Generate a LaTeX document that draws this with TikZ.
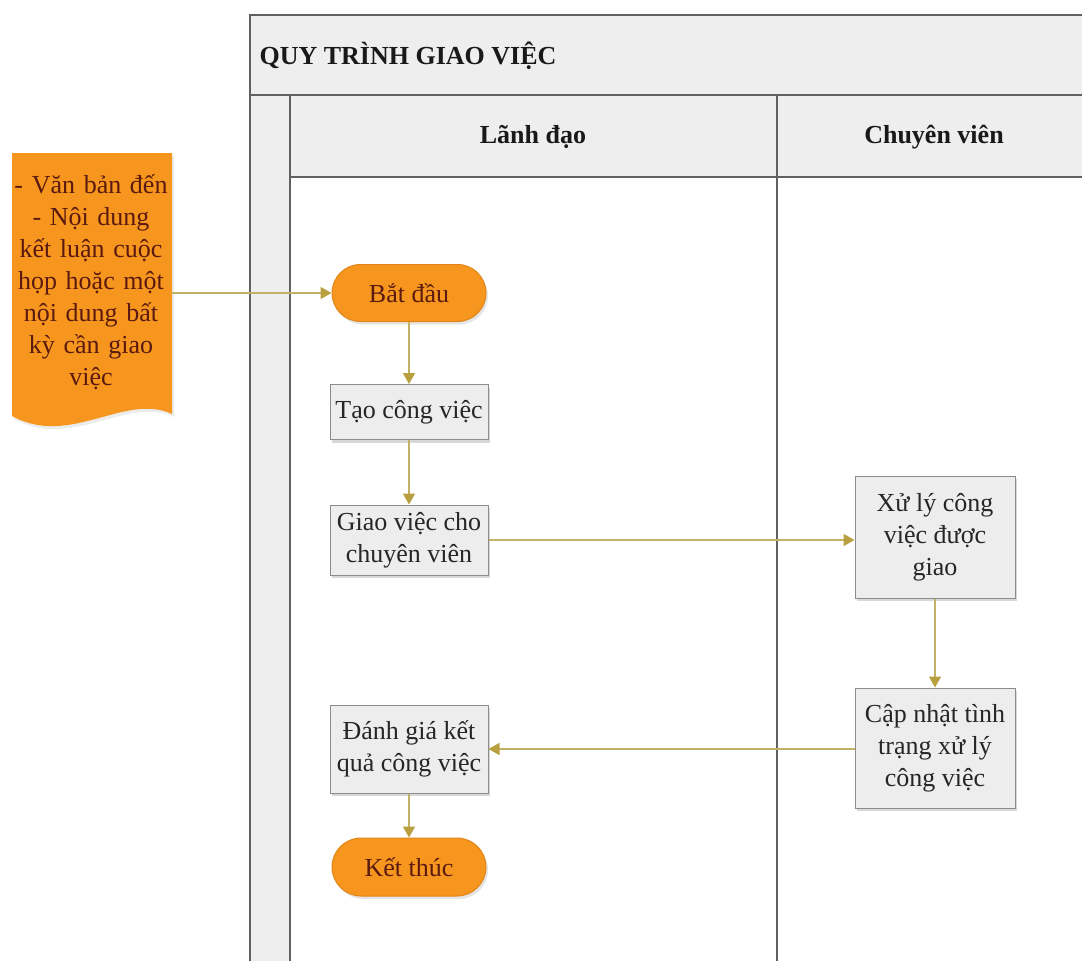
\documentclass[tikz,border=0pt]{standalone}
\usepackage{fontspec}
\setmainfont{Liberation Serif}
\usetikzlibrary{shapes.misc,shadows,arrows.meta}
\definecolor{poolline}{HTML}{606060}
\definecolor{bandfill}{HTML}{EEEEEE}
\definecolor{boxfill}{HTML}{EDEDED}
\definecolor{boxline}{HTML}{8C8C8C}
\definecolor{orangefill}{HTML}{F7961E}
\definecolor{orangeline}{HTML}{E0861A}
\definecolor{ink}{HTML}{5A1A10}
\definecolor{flow}{HTML}{C4B264}
\definecolor{flowtip}{HTML}{B8A040}
\tikzset{
  base/.style={font=\fontsize{26}{32}\selectfont, align=center, inner sep=2pt},
  stepbox/.style={base, rectangle, fill=boxfill, draw=boxline, line width=1pt,
    minimum width=158pt, text=black!85,
    drop shadow={opacity=0.3, shadow xshift=2pt, shadow yshift=-3pt}},
  terminal/.style={base, rounded rectangle, fill=orangefill, draw=orangeline,
    line width=1pt, minimum width=158pt, text=ink,
    drop shadow={opacity=0.2, shadow xshift=2pt, shadow yshift=-3pt}},
  doctext/.style={base, text width=156pt, text=ink},
  flowline/.style={draw=flow, line width=1.5pt,
    -{Triangle[length=11pt, width=12pt, color=flowtip]}},
  poolrule/.style={draw=poolline, line width=1.6pt},
  lanetitle/.style={font=\fontsize{26}{32}\selectfont\bfseries, text=black!90},
}
\begin{document}
\begin{tikzpicture}[x=1pt, y=-1pt]
\useasboundingbox (0,0) rectangle (1082,961);

% pool: title band, lane headers, left strip
\fill[bandfill] (250,15) rectangle (1100,177);
\fill[bandfill] (250,95) rectangle (290,980);
\fill[white] (290,177) rectangle (1100,980);
\draw[poolrule] (1100,15) -- (250,15) -- (250,980);
\draw[poolrule] (250,95) -- (1100,95);
\draw[poolrule] (290,95) -- (290,980);
\draw[poolrule] (290,177) -- (1100,177);
\draw[poolrule] (777,95) -- (777,980);

\node[lanetitle, anchor=west] (pooltitle) at (256,56) {QUY TRÌNH GIAO VIỆC};
\node[lanetitle] (lane1) at (533,137) {Lãnh đạo};
\node[lanetitle] (lane2) at (934,137) {Chuyên viên};

% input document with wavy bottom
\fill[orangefill, drop shadow={opacity=0.15, shadow xshift=2pt, shadow yshift=-3pt}]
  (12,153) -- (172,153) -- (172,414)
  .. controls (125,392) and (70,448) .. (12,416) -- cycle;
\node[doctext] (doc) at (91,282) {- Văn bản đến\\- Nội dung\\kết luận cuộc\\họp hoặc một\\nội dung bất\\kỳ cần giao\\việc};

% flow steps
\node[terminal, minimum height=57pt] (start) at (409,293) {Bắt đầu};
\node[stepbox, minimum height=55pt] (create) at (409,412) {Tạo công việc};
\node[stepbox, minimum height=70pt] (assign) at (409,540) {Giao việc cho\\chuyên viên};
\node[stepbox, minimum width=160pt, minimum height=122pt] (handle) at (935,537) {Xử lý công\\việc được\\giao};
\node[stepbox, minimum width=160pt, minimum height=120pt] (update) at (935,748) {Cập nhật tình\\trạng xử lý\\công việc};
\node[stepbox, minimum height=88pt] (review) at (409,749) {Đánh giá kết\\quả công việc};
\node[terminal, minimum height=58pt] (finish) at (409,867) {Kết thúc};

% connectors
\draw[flowline] (doc.east |- start.west) -- (start.west);
\draw[flowline] (start) -- (create);
\draw[flowline] (create) -- (assign);
\draw[flowline] (assign.east) -- (assign.east -| handle.west);
\draw[flowline] (handle) -- (update);
\draw[flowline] (update.west |- review.east) -- (review.east);
\draw[flowline] (review) -- (finish);
\end{tikzpicture}
\end{document}
